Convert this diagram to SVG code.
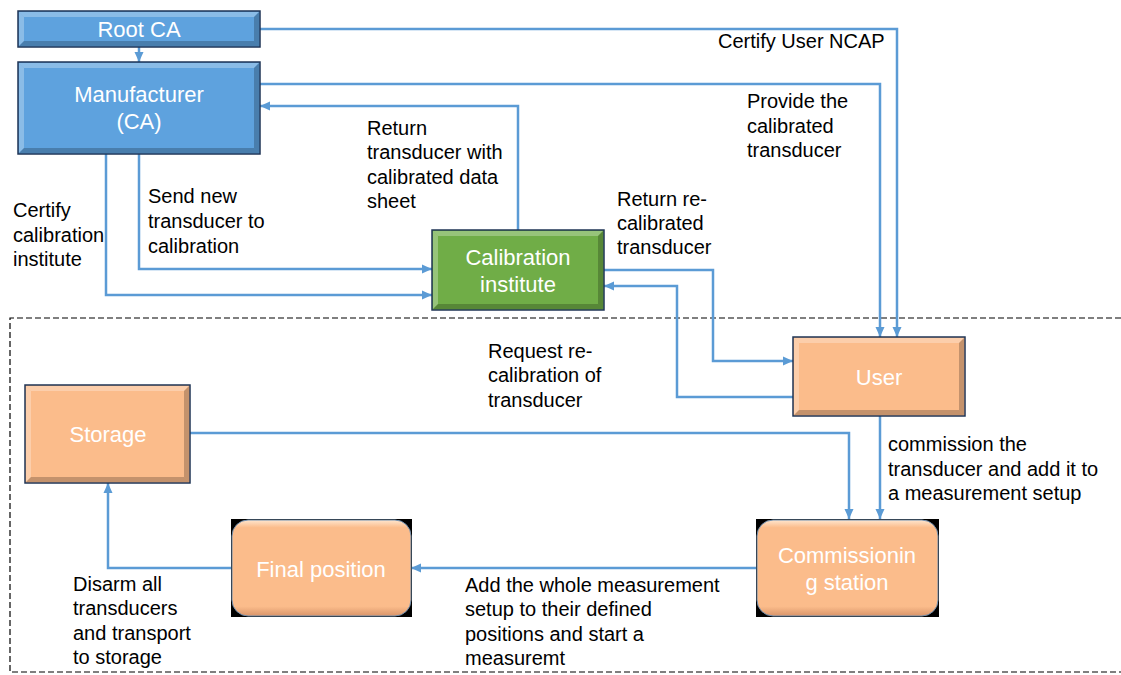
<svg xmlns="http://www.w3.org/2000/svg" width="1121" height="675" viewBox="0 0 1121 675">
  <style>
    .node-text { font-family: "Liberation Sans", Arial, sans-serif; font-size: 22px; fill: #ffffff; text-anchor: middle; }
    .label { font-family: "Liberation Sans", Arial, sans-serif; font-size: 20px; fill: #000000; }
    .edge { fill: none; stroke: #5B9BD5; stroke-width: 2.5; marker-end: url(#arrow); }
    .frame { fill: none; stroke: #000000; stroke-width: 1.2; stroke-dasharray: 6 3; }
    .box { stroke: #1F3556; stroke-width: 1.5; }
    .blue { fill: #5EA2DE; }
    .green { fill: #70AD47; }
    .orange { fill: #FBBC8B; }
    .hi { fill: #ffffff; opacity: 0.28; }
    .lo { fill: #000000; opacity: 0.22; }
  </style>
  <defs>
    <marker id="arrow" markerUnits="userSpaceOnUse" markerWidth="10" markerHeight="10" viewBox="0 0 10 10" refX="10" refY="5" orient="auto">
      <path d="M0,0.5 L10,5 L0,9.5 Z" fill="#5B9BD5"/>
    </marker>
    <linearGradient id="roundGlow" x1="0" y1="0" x2="0" y2="1">
      <stop offset="0" stop-color="#FFE6CF"/>
      <stop offset="0.08" stop-color="#FBBC8B"/>
      <stop offset="0.9" stop-color="#FBBC8B"/>
      <stop offset="1" stop-color="#D9956A"/>
    </linearGradient>
  </defs>

  <rect width="1121" height="675" fill="#ffffff"/>

  <!-- dashed boundary of the measurement area -->
  <path class="frame" d="M1121,318 H10 V672 H1121"/>

  <!-- connectors -->
  <g id="connectors">
    <path class="edge" d="M139,47 V62"/>
    <path class="edge" d="M260,29 H897 V337"/>
    <path class="edge" d="M260,84 H880 V337"/>
    <path class="edge" d="M518,230 V106 H260"/>
    <path class="edge" d="M139,154 V269 H432"/>
    <path class="edge" d="M106,154 V295 H432"/>
    <path class="edge" d="M604,270 H713 V361 H793"/>
    <path class="edge" d="M793,397 H677 V286 H604"/>
    <path class="edge" d="M880,416 V519"/>
    <path class="edge" d="M190,433 H849 V519"/>
    <path class="edge" d="M756,568 H411"/>
    <path class="edge" d="M231,568 H108 V483"/>
  </g>

  <!-- connector labels -->
  <g id="labels">
    <text class="label" x="718" y="48">Certify User NCAP</text>
    <text class="label" x="747" y="108">Provide the</text>
    <text class="label" x="747" y="133">calibrated</text>
    <text class="label" x="747" y="157">transducer</text>
    <text class="label" x="367" y="135">Return</text>
    <text class="label" x="367" y="159">transducer with</text>
    <text class="label" x="367" y="184">calibrated data</text>
    <text class="label" x="367" y="208">sheet</text>
    <text class="label" x="148" y="203">Send new</text>
    <text class="label" x="148" y="228">transducer to</text>
    <text class="label" x="148" y="253">calibration</text>
    <text class="label" x="13" y="217">Certify</text>
    <text class="label" x="13" y="242">calibration</text>
    <text class="label" x="13" y="266">institute</text>
    <text class="label" x="617" y="206">Return re-</text>
    <text class="label" x="617" y="230">calibrated</text>
    <text class="label" x="617" y="254">transducer</text>
    <text class="label" x="488" y="358">Request re-</text>
    <text class="label" x="488" y="382">calibration of</text>
    <text class="label" x="488" y="407">transducer</text>
    <text class="label" x="888" y="451">commission the</text>
    <text class="label" x="888" y="476">transducer and add it to</text>
    <text class="label" x="888" y="500">a measurement setup</text>
    <text class="label" x="465" y="592">Add the whole measurement</text>
    <text class="label" x="465" y="616">setup to their defined</text>
    <text class="label" x="465" y="641">positions and start a</text>
    <text class="label" x="465" y="665">measuremt</text>
    <text class="label" x="73" y="591">Disarm all</text>
    <text class="label" x="73" y="615">transducers</text>
    <text class="label" x="73" y="640">and transport</text>
    <text class="label" x="73" y="664">to storage</text>
  </g>

  <!-- Root CA -->
  <g id="root-ca">
    <rect class="box blue" x="18" y="11" width="242" height="36"/>
    <path class="hi" d="M19,12 H259 L254,17 H24 Z"/>
    <path class="hi" d="M19,12 L24,17 V41 L19,46 Z"/>
    <path class="lo" d="M19,46 H259 L254,41 H24 Z"/>
    <path class="lo" d="M259,12 L254,17 V41 L259,46 Z"/>
    <text class="node-text" x="139" y="37">Root CA</text>
  </g>

  <!-- Manufacturer -->
  <g id="manufacturer">
    <rect class="box blue" x="18" y="62" width="242" height="92"/>
    <path class="hi" d="M19,63 H259 L254,68 H24 Z"/>
    <path class="hi" d="M19,63 L24,68 V148 L19,153 Z"/>
    <path class="lo" d="M19,153 H259 L254,148 H24 Z"/>
    <path class="lo" d="M259,63 L254,68 V148 L259,153 Z"/>
    <text class="node-text" x="139" y="102">Manufacturer</text>
    <text class="node-text" x="139" y="129">(CA)</text>
  </g>

  <!-- Calibration institute -->
  <g id="calibration-institute">
    <rect class="box green" x="432" y="230" width="172" height="80"/>
    <path class="hi" d="M433,231 H603 L598,236 H438 Z"/>
    <path class="hi" d="M433,231 L438,236 V304 L433,309 Z"/>
    <path class="lo" d="M433,309 H603 L598,304 H438 Z"/>
    <path class="lo" d="M603,231 L598,236 V304 L603,309 Z"/>
    <text class="node-text" x="518" y="265">Calibration</text>
    <text class="node-text" x="518" y="292">institute</text>
  </g>

  <!-- User -->
  <g id="user">
    <rect class="box orange" x="793" y="337" width="172" height="79"/>
    <path class="hi" d="M794,338 H964 L959,343 H799 Z"/>
    <path class="hi" d="M794,338 L799,343 V410 L794,415 Z"/>
    <path class="lo" d="M794,415 H964 L959,410 H799 Z"/>
    <path class="lo" d="M964,338 L959,343 V410 L964,415 Z"/>
    <text class="node-text" x="879" y="385">User</text>
  </g>

  <!-- Storage -->
  <g id="storage">
    <rect class="box orange" x="25" y="385" width="165" height="98"/>
    <path class="hi" d="M26,386 H189 L184,391 H31 Z"/>
    <path class="hi" d="M26,386 L31,391 V477 L26,482 Z"/>
    <path class="lo" d="M26,482 H189 L184,477 H31 Z"/>
    <path class="lo" d="M189,386 L184,391 V477 L189,482 Z"/>
    <text class="node-text" x="108" y="442">Storage</text>
  </g>

  <!-- Final position -->
  <g id="final-position">
    <rect x="231" y="519" width="181" height="98" fill="#000000"/>
    <rect x="232" y="520" width="179" height="96" rx="16" fill="url(#roundGlow)" stroke="#6F8FB0" stroke-width="1"/>
    <text class="node-text" x="321" y="577">Final position</text>
  </g>

  <!-- Commissioning station -->
  <g id="commissioning-station">
    <rect x="756" y="519" width="183" height="98" fill="#000000"/>
    <rect x="757" y="520" width="181" height="96" rx="16" fill="url(#roundGlow)" stroke="#6F8FB0" stroke-width="1"/>
    <text class="node-text" x="847" y="563">Commissionin</text>
    <text class="node-text" x="847" y="590">g station</text>
  </g>
</svg>
